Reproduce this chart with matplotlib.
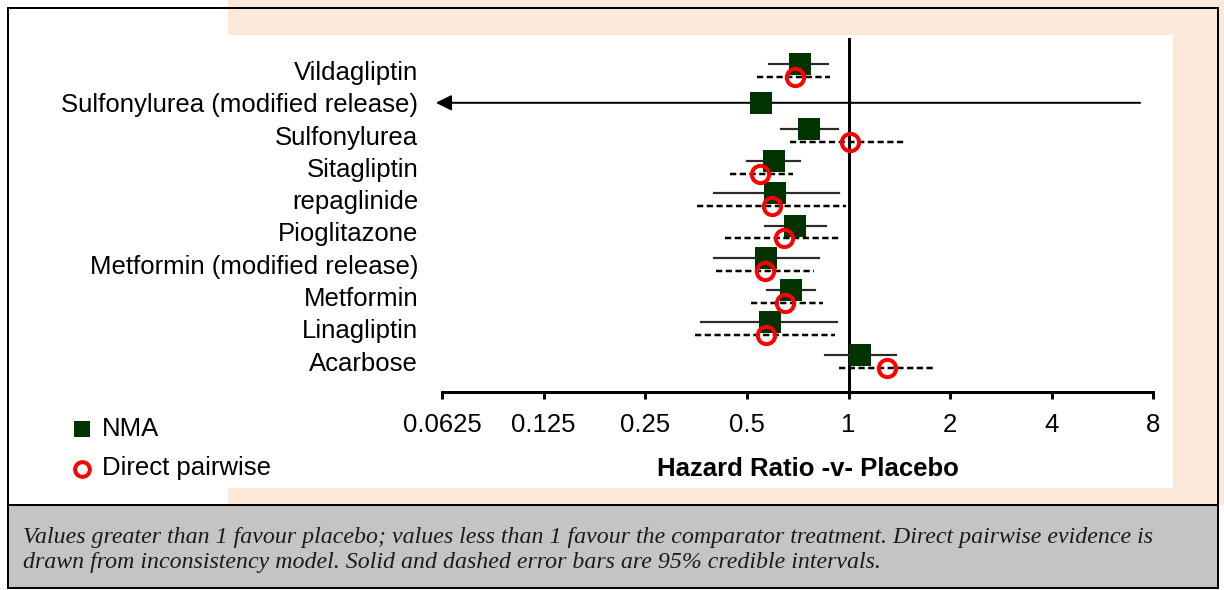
import numpy as np
import matplotlib
matplotlib.use("Agg")
import matplotlib.pyplot as plt
from matplotlib.patches import Rectangle

plt.rcParams["font.family"] = ["Liberation Sans", "DejaVu Sans"]
plt.rcParams["lines.scale_dashes"] = False

# -----------------------------
# Data (hazard ratio vs placebo, 95% CrI)
# -----------------------------
categories = ["Vildagliptin", "Sulfonylurea (modified release)", "Sulfonylurea",
              "Sitagliptin", "repaglinide", "Pioglitazone",
              "Metformin (modified release)", "Metformin", "Linagliptin", "Acarbose"]

nma_hr = [0.72, 0.55, 0.765, 0.60, 0.605, 0.695, 0.57, 0.675, 0.585, 1.08]
nma_lo = [0.58, 0.02, 0.63, 0.50, 0.40, 0.565, 0.40, 0.575, 0.365, 0.85]
nma_hi = [0.87, 7.3, 0.93, 0.72, 0.94, 0.855, 0.82, 0.795, 0.925, 1.38]

nan = np.nan
direct_hr = [0.695, nan, 1.01, 0.547, 0.595, 0.645, 0.566, 0.65, 0.57, 1.30]
direct_lo = [0.535, nan, 0.67, 0.445, 0.355, 0.43, 0.405, 0.513, 0.35, 0.935]
direct_hi = [0.88, nan, 1.47, 0.685, 0.98, 0.945, 0.79, 0.84, 0.91, 1.79]

tick_vals = [0.0625, 0.125, 0.25, 0.5, 1, 2, 4, 8]
tick_labels = ["0.0625", "0.125", "0.25", "0.5", "1", "2", "4", "8"]

footnote = ["Values greater than 1 favour placebo; values less than 1 favour the comparator treatment. Direct pairwise evidence is",
            "drawn from inconsistency model. Solid and dashed error bars are 95% credible intervals."]

# -----------------------------
# Styles
# -----------------------------
W, H = 1224, 590
PX = 72 / 100  # points per pixel at dpi 100
GREEN = "#003300"
PEACH = "#FDE9D9"
GREY = "#C4C4C4"
FS = 18.5
arrow_tip = 2 ** -4.06

fig = plt.figure(figsize=(W / 100, H / 100), dpi=100)

# background panels, drawn in pixel coordinates
bg = fig.add_axes([0, 0, 1, 1])
bg.set_xlim(0, W)
bg.set_ylim(H, 0)
bg.axis("off")
bg.add_patch(Rectangle((228, 0), W - 228, 505, color=PEACH, lw=0))
bg.add_patch(Rectangle((8, 35), 1165, 453, color="white", lw=0))
bg.add_patch(Rectangle((8, 505), 1210, 83, color=GREY, lw=0))
bg.add_patch(Rectangle((8, 8), 1210, 580, fill=False, ec="black", lw=2 * PX))
bg.plot([8, 1218], [505, 505], color="black", lw=2 * PX)

# main forest plot axes
left, right, top, bottom = 430, 1160, 38, 392
ax = fig.add_axes([left / W, (H - bottom) / H, (right - left) / W, (bottom - top) / H])
ax.set_facecolor("none")
ax.set_xscale("log", base=2)
ax.set_xlim(2 ** ((left - 848.5) / 101.64), 2 ** ((right - 848.5) / 101.64))
row_px = 32.3
ax.set_ylim((bottom - 70.5) / row_px, (top - 70.5) / row_px)

ax.axvline(1, color="black", lw=3 * PX, zorder=2)

xmin = ax.get_xlim()[0]
for i in range(len(categories)):
    has_direct = not np.isnan(direct_hr[i])
    y_n = i - 0.2 if has_direct else i
    if nma_lo[i] < xmin:
        ax.annotate("", xy=(arrow_tip, y_n), xytext=(nma_hi[i], y_n),
                    arrowprops=dict(arrowstyle="-|>,head_length=0.6,head_width=0.3",
                                    color="black", lw=2 * PX, mutation_scale=15.6,
                                    shrinkA=0, shrinkB=0), zorder=3)
    else:
        ax.plot([nma_lo[i], nma_hi[i]], [y_n, y_n], color="#2b2b2b", lw=2.2 * PX, zorder=3)
    ax.plot(nma_hr[i], y_n, "s", ms=21.7 * PX, color=GREEN, mew=0, zorder=5)
    if has_direct:
        y_d = i + 0.2
        ax.plot([direct_lo[i], direct_hi[i]], [y_d, y_d], color="black",
                lw=2.5 * PX, ls=(0, (4.5, 2.5)), zorder=4)
        ax.plot(direct_hr[i], y_d, "o", ms=17.3 * PX, mfc="none", mec="red",
                mew=4 * PX, zorder=6)

for s in ["top", "right", "left"]:
    ax.spines[s].set_visible(False)
ax.spines["bottom"].set_bounds(tick_vals[0], tick_vals[-1])
ax.spines["bottom"].set_linewidth(3 * PX)
ax.set_xticks(tick_vals)
ax.set_xticklabels(tick_labels)
ax.minorticks_off()
ax.tick_params(axis="x", direction="out", length=5, width=3 * PX, labelsize=FS, pad=10)
ax.set_yticks(range(len(categories)))
ax.set_yticklabels(categories)
ax.tick_params(axis="y", length=0, labelsize=FS, pad=8.5)

bg.text(808, 469, "Hazard Ratio -v- Placebo", ha="center", va="center",
        fontsize=18.5, weight="bold")

# legend
bg.plot(82, 429, "s", ms=16 * PX, color=GREEN, mew=0)
bg.text(102, 429, "NMA", va="center", fontsize=FS)
bg.plot(81.7, 469, "o", ms=14.7 * PX, mfc="none", mec="red", mew=4 * PX)
bg.text(102, 468, "Direct pairwise", va="center", fontsize=FS)

# footnote
for k, line in enumerate(footnote):
    bg.text(23, 537 + 25.5 * k, line, va="center", fontsize=17.2, style="italic",
            family="Liberation Serif", color="#1a1a1a")

plt.savefig("out.png", dpi=100)
plt.close()
